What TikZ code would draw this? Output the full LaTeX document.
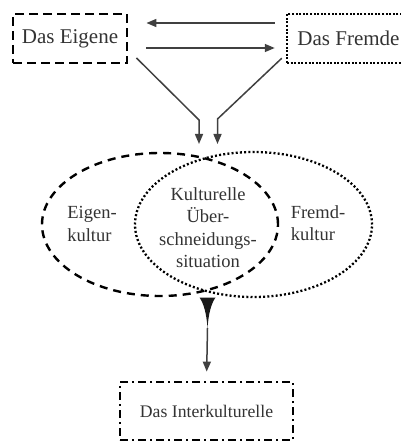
\documentclass[tikz,border=0pt]{standalone}
\usepackage{fontspec}
\setmainfont{Liberation Serif}
\usetikzlibrary{arrows.meta,shapes.geometric}
\begin{document}
\begin{tikzpicture}[x=1pt,y=-1pt,
  boxbase/.style={inner sep=0pt, text=black!80, font=\fontsize{21}{25}\selectfont},
  eigbox/.style={boxbase, draw, line width=2.8pt, dash pattern=on 9pt off 5pt,
    minimum width=114pt, minimum height=49pt},
  frebox/.style={boxbase, draw, line width=2.5pt, dash pattern=on 2pt off 1.6pt,
    minimum width=123pt, minimum height=49pt},
  interbox/.style={boxbase, draw, line width=2.8pt,
    dash pattern=on 8pt off 4pt on 2pt off 4pt,
    minimum width=173pt, minimum height=58pt, font=\fontsize{17.7}{21}\selectfont},
  dashell/.style={draw, ellipse, inner sep=0pt, line width=2.4pt,
    dash pattern=on 8pt off 6pt, minimum width=236pt, minimum height=143pt},
  dotell/.style={draw, ellipse, inner sep=0pt, line width=2.3pt,
    dash pattern=on 2pt off 2.2pt, minimum width=237pt, minimum height=145pt},
  lbl/.style={inner sep=0pt, text=black!80, font=\fontsize{18.5}{22.5}\selectfont},
  arr/.style={draw=black!75, line width=1.5pt,
    -{Triangle[length=10pt,width=8pt]}},
]
\useasboundingbox (0,0) rectangle (400,443);

% boxes
\node[eigbox] (eig) at (70,38.5) {Das Eigene};
\node[frebox] (fre) at (348.5,38.5) {Das Fremde};
\node[interbox] (inter) at (206.5,411) {Das Interkulturelle};

% horizontal arrows
\draw[arr, shorten <=11pt, shorten >=18pt] ([yshift=15.5pt]fre.west) -- ([yshift=15.5pt]eig.east);
\draw[arr, shorten <=18pt, shorten >=11pt] ([yshift=-9.5pt]eig.west -| eig.east) -- ([yshift=-9.5pt]fre.west);

% ellipses
\node[dashell] (eigk) at (160,224.5) {};
\node[dotell] (frek) at (253.5,224.5) {};

% labels
\node[lbl, align=left] (leig) at (92,224) {Eigen-\\kultur};
\node[lbl, align=center] (lmid) at (208,227.5) {Kulturelle\\Über-\\schneidungs-\\situation};
\node[lbl, align=left] (lfre) at (318,223) {Fremd-\\kultur};

% diagonal arrows
\coordinate (bendL) at (199,120);
\coordinate (bendR) at (217.5,119);
\coordinate (tipL) at (199,144);
\coordinate (tipR) at (217.5,144);
\draw[arr] ([xshift=8pt,yshift=6.5pt]eig.south east) -- (bendL) -- (tipL);
\draw[arr] ([xshift=-4pt,yshift=6pt]fre.south west) -- (bendR) -- (tipR);

% downward arrow with wedge
\coordinate (wedge) at (207.5,297.5);
\coordinate (wedgetip) at (207.5,328);
\fill[black!90] ([xshift=-8pt]wedge) .. controls (204,304) and (206.5,314) .. (wedgetip)
  .. controls (208.5,314) and (211,304) .. ([xshift=8pt]wedge) -- cycle;
\draw[arr, shorten >=9pt] (wedgetip) -- (inter.north);
\end{tikzpicture}
\end{document}
